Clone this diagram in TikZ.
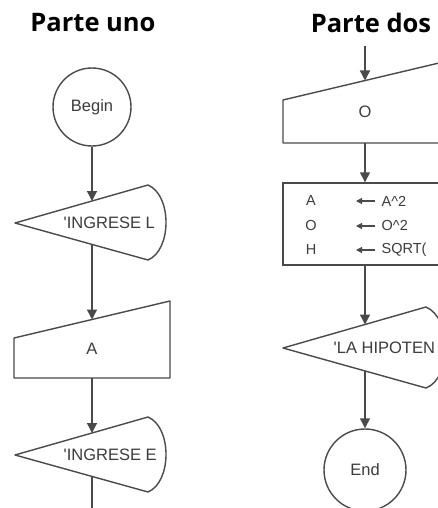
\documentclass[tikz,border=0pt]{standalone}
\usepackage{fontspec}
\setmainfont{Liberation Sans}
\newfontfamily\titlefont{Open Sans}[BoldFont={* Bold}]
\usetikzlibrary{arrows.meta}
\definecolor{ink}{HTML}{4A4A4A}
\definecolor{txt}{HTML}{3C3C3C}
\begin{document}
\begin{tikzpicture}[x=1pt,y=-1pt,
  line width=1.4pt, draw=ink,
  coltitle/.style={font=\titlefont\bfseries\fontsize{25.5}{30}\selectfont, text=black, inner sep=0pt},
  boxtext/.style={font=\fontsize{16.5}{18}\selectfont, text=txt, inner sep=0pt},
  cell/.style={font=\fontsize{14.5}{16}\selectfont, text=txt, inner sep=0pt},
  flow/.style={draw=ink, -{Triangle[width=10pt,length=10pt]}},
  outline/.style={draw=ink, fill=white, line join=round},
  term/.style={circle, draw=ink, fill=white, line width=1.4pt, font=\fontsize{16.5}{18}\selectfont, text=txt}
]
\useasboundingbox (0,0) rectangle (438,508);
\clip (0,0) rectangle (438,508);

% ---- column titles
\node[coltitle] (t1) at (93,23) {Parte uno};
\node[coltitle] (t2) at (371,23) {Parte dos};

% ================= Parte uno =================
\node[term, minimum size=78pt, inner sep=0pt] (begin) at (92,107) {Begin};

% display: prompt for the first side
\path[outline] (15,223) -- (148,185) .. controls (172,195) and (172,250) .. (148,260) -- cycle;
\node[boxtext, anchor=west] (d1) at (63,223) {\textquotesingle INGRESE L};
\coordinate (d1top) at (92,201);
\coordinate (d1bot) at (92,244.5);

% manual input: A
\path[outline] (14,338) -- (170,301) -- (170,378) -- (14,378) -- cycle;
\node[boxtext] (inA) at (92,349) {A};
\coordinate (inAtop) at (92,319.5);
\coordinate (inAbot) at (92,378);

% display: prompt for the second side
\path[outline] (15,455) -- (148,417) .. controls (172,427) and (172,482) .. (148,492) -- cycle;
\node[boxtext, anchor=west] (d2) at (63,455) {\textquotesingle INGRESE E};
\coordinate (d2top) at (92,433);
\coordinate (d2bot) at (92,476.5);
\coordinate (cont1) at (92,515);

\draw[flow] (begin.south) -- (d1top);
\draw[flow] (d1bot) -- (inAtop);
\draw[flow] (inAbot) -- (d2top);
\draw (d2bot) -- (cont1);

% ================= Parte dos =================
\coordinate (entry2) at (365,46);

% manual input: O
\path[outline] (283,100) -- (439,63) -- (439,143) -- (283,143) -- cycle;
\node[boxtext] (inO) at (365,112) {O};
\coordinate (inOtop) at (365,80.5);
\coordinate (inObot) at (365,143);

% process box
\node[draw=ink, fill=white, line width=1.4pt, minimum width=156pt, minimum height=82pt,
      inner sep=0pt] (proc) at (361,224) {};
\node[cell] (v1) at (311,201) {A};
\node[cell] (v2) at (311,226) {O};
\node[cell] (v3) at (311,250) {H};
\node[cell, anchor=west] (e1) at (381,201) {A\^{}2};
\node[cell, anchor=west] (e2) at (381,226) {O\^{}2};
\node[cell, anchor=west] (e3) at (381,250) {SQRT(};
\foreach \r in {1,2,3}{
  \draw[line width=1.1pt, -{Triangle[width=6pt,length=6pt]}]
    ([xshift=-6pt]e\r.west) -- ([xshift=-25pt]e\r.west);
}

% display: result
\path[outline] (283,348) -- (426,307) .. controls (452,318) and (452,378) .. (426,388) -- cycle;
\node[boxtext, anchor=west] (d3) at (333,348) {\textquotesingle LA HIPOTEN};
\coordinate (d3top) at (365,324.5);
\coordinate (d3bot) at (365,371);

\node[term, minimum size=82pt, inner sep=0pt] (end) at (365,470) {End};

\draw[flow] (entry2) -- (inOtop);
\draw[flow] (inObot) -- (proc.north -| inObot);
\draw[flow] (proc.south -| inObot) -- (d3top);
\draw[flow] (d3bot) -- (end.north);
\end{tikzpicture}
\end{document}
